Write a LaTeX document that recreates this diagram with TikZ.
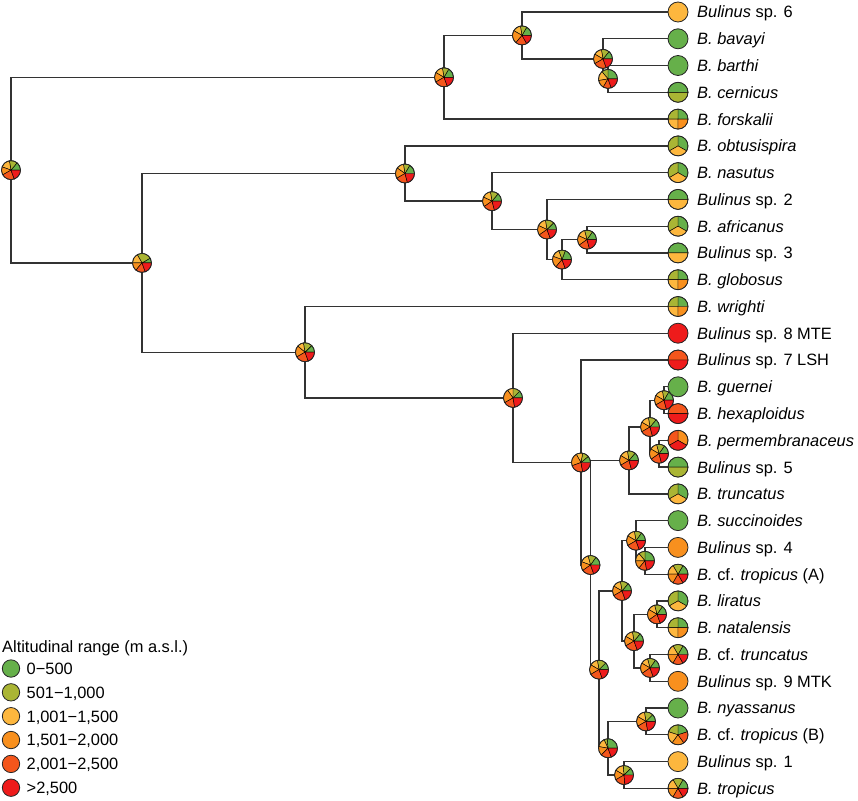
\documentclass[tikz,border=0pt]{standalone}
\usepackage{fontspec}
\setmainfont{Liberation Sans}
\definecolor{cA}{HTML}{66B04A}
\definecolor{cB}{HTML}{AAB534}
\definecolor{cC}{HTML}{FDB73E}
\definecolor{cD}{HTML}{F8901E}
\definecolor{cE}{HTML}{F4561C}
\definecolor{cF}{HTML}{EE1B1B}
\tikzset{
  branch/.style={line width=1.3pt, draw=black!80},
  slice/.style={draw=black, line width=0.45pt},
  rim/.style={draw=black!85, line width=0.8pt},
  lab/.style={anchor=base west, inner sep=0pt, font=\fontsize{16.4}{18}\selectfont},
  legdot/.style={circle, draw=black!85, line width=0.8pt, minimum size=17.4pt, inner sep=0pt},
}
\newcommand{\pieat}[3]{%
  \foreach \sa/\sb/\sc in {#3}{\filldraw[slice, fill=\sc] (#1) -- ++(\sa:#2) arc[start angle=\sa, end angle=\sb, radius=#2] -- cycle;}
  \draw[rim] (#1) circle[radius=#2];}
\newcommand{\dotat}[2]{\filldraw[rim, fill=#2] (#1) circle[radius=10pt];}
\newcommand{\ipie}[6]{\pieat{#1}{9.5pt}{0/#2/cA,#2/#3/cB,#3/#4/cC,#4/#5/cD,#5/#6/cE,#6/360/cF}}
\newcommand{\twoS}[3]{\pieat{#1}{10pt}{0/180/#2,180/360/#3}}
\newcommand{\threeS}[4]{\pieat{#1}{10pt}{-30/90/#2,90/210/#3,210/330/#4}}
\newcommand{\fourS}[1]{\pieat{#1}{10pt}{0/90/cA,90/180/cB,180/270/cC,270/360/cD}}
\newcommand{\sixS}[1]{\pieat{#1}{10pt}{0/60/cA,60/120/cB,120/180/cC,180/240/cD,240/300/cE,300/360/cF}}
\begin{document}
\begin{tikzpicture}[x=1pt,y=-1pt]
\useasboundingbox (0,0) rectangle (858,800);
% tips
\coordinate (t0) at (678,12.0);
\coordinate (t1) at (678,38.8);
\coordinate (t2) at (678,65.5);
\coordinate (t3) at (678,92.3);
\coordinate (t4) at (678,119.1);
\coordinate (t5) at (678,145.9);
\coordinate (t6) at (678,172.6);
\coordinate (t7) at (678,199.4);
\coordinate (t8) at (678,226.2);
\coordinate (t9) at (678,252.9);
\coordinate (t10) at (678,279.7);
\coordinate (t11) at (678,306.5);
\coordinate (t12) at (678,333.2);
\coordinate (t13) at (678,360.0);
\coordinate (t14) at (678,386.8);
\coordinate (t15) at (678,413.6);
\coordinate (t16) at (678,440.3);
\coordinate (t17) at (678,467.1);
\coordinate (t18) at (678,493.9);
\coordinate (t19) at (678,520.6);
\coordinate (t20) at (678,547.4);
\coordinate (t21) at (678,574.2);
\coordinate (t22) at (678,600.9);
\coordinate (t23) at (678,627.7);
\coordinate (t24) at (678,654.5);
\coordinate (t25) at (678,681.3);
\coordinate (t26) at (678,708.0);
\coordinate (t27) at (678,734.8);
\coordinate (t28) at (678,761.6);
\coordinate (t29) at (678,788.3);
% internal nodes
\coordinate (root) at (11,170.1);
\coordinate (A) at (444,77.3);
\coordinate (A1) at (522,35.4);
\coordinate (A2) at (603,58.9);
\coordinate (A3) at (608,78.9);
\coordinate (B) at (142,262.9);
\coordinate (C) at (405,173.5);
\coordinate (C1) at (492,201.1);
\coordinate (C2) at (547,229.5);
\coordinate (C3) at (562,259.6);
\coordinate (C4) at (587,239.6);
\coordinate (D) at (305,352.2);
\coordinate (E) at (513,397.9);
\coordinate (F) at (581,462.5);
\coordinate (G) at (590.5,565.0);
\coordinate (H) at (629,460.4);
\coordinate (H1) at (650,427.0);
\coordinate (H2) at (664,400.2);
\coordinate (H3) at (659,453.7);
\coordinate (I) at (599,669.6);
\coordinate (J) at (622,590.9);
\coordinate (J1) at (636,540.7);
\coordinate (J1a) at (645,560.8);
\coordinate (J2) at (634,641.1);
\coordinate (J2a) at (657,614.3);
\coordinate (J2b) at (650,667.9);
\coordinate (K) at (608,748.2);
\coordinate (K1) at (646,721.4);
\coordinate (K2) at (624,775.0);
% branches
\draw[branch] (root) |- (A);
\draw[branch] (root) |- (B);
\draw[branch] (A) |- (A1);
\draw[branch] (A) |- (t4);
\draw[branch] (A1) |- (t0);
\draw[branch] (A1) |- (A2);
\draw[branch] (A2) |- (t1);
\draw[branch] (A2) |- (A3);
\draw[branch] (A3) |- (t2);
\draw[branch] (A3) |- (t3);
\draw[branch] (B) |- (C);
\draw[branch] (B) |- (D);
\draw[branch] (C) |- (t5);
\draw[branch] (C) |- (C1);
\draw[branch] (C1) |- (t6);
\draw[branch] (C1) |- (C2);
\draw[branch] (C2) |- (t7);
\draw[branch] (C2) |- (C3);
\draw[branch] (C3) |- (C4);
\draw[branch] (C3) |- (t10);
\draw[branch] (C4) |- (t8);
\draw[branch] (C4) |- (t9);
\draw[branch] (D) |- (t11);
\draw[branch] (D) |- (E);
\draw[branch] (E) |- (t12);
\draw[branch] (E) |- (F);
\draw[branch] (F) |- (t13);
\draw[branch] (F) |- (G);
\draw[branch] (G) |- (H);
\draw[branch] (G) |- (I);
\draw[branch] (H) |- (H1);
\draw[branch] (H) |- (t18);
\draw[branch] (H1) |- (H2);
\draw[branch] (H1) |- (H3);
\draw[branch] (H2) |- (t14);
\draw[branch] (H2) |- (t15);
\draw[branch] (H3) |- (t16);
\draw[branch] (H3) |- (t17);
\draw[branch] (I) |- (J);
\draw[branch] (I) |- (K);
\draw[branch] (J) |- (J1);
\draw[branch] (J) |- (J2);
\draw[branch] (J1) |- (t19);
\draw[branch] (J1) |- (J1a);
\draw[branch] (J1a) |- (t20);
\draw[branch] (J1a) |- (t21);
\draw[branch] (J2) |- (J2a);
\draw[branch] (J2) |- (J2b);
\draw[branch] (J2a) |- (t22);
\draw[branch] (J2a) |- (t23);
\draw[branch] (J2b) |- (t24);
\draw[branch] (J2b) |- (t25);
\draw[branch] (K) |- (K1);
\draw[branch] (K) |- (K2);
\draw[branch] (K1) |- (t26);
\draw[branch] (K1) |- (t27);
\draw[branch] (K2) |- (t28);
\draw[branch] (K2) |- (t29);
% internal pies
\ipie{root}{50}{100}{160}{210}{290}
\ipie{A}{60}{100}{150}{210}{290}
\ipie{A1}{60}{100}{150}{230}{300}
\ipie{A2}{50}{100}{150}{210}{290}
\ipie{A3}{90}{130}{190}{240}{290}
\ipie{B}{30}{120}{180}{230}{290}
\ipie{C}{60}{100}{145}{210}{285}
\ipie{C1}{50}{100}{155}{215}{285}
\ipie{C2}{45}{100}{155}{215}{290}
\ipie{C3}{70}{110}{160}{230}{290}
\ipie{C4}{55}{105}{155}{215}{285}
\ipie{D}{45}{100}{140}{210}{290}
\ipie{E}{45}{90}{125}{210}{280}
\ipie{F}{40}{80}{120}{200}{280}
\ipie{G}{55}{105}{160}{215}{290}
\ipie{H}{50}{100}{150}{210}{285}
\ipie{H1}{50}{100}{150}{210}{285}
\ipie{H2}{60}{100}{150}{210}{285}
\ipie{H3}{55}{105}{150}{215}{285}
\ipie{I}{45}{100}{150}{210}{290}
\ipie{J}{50}{100}{150}{210}{290}
\ipie{J1}{55}{100}{150}{210}{290}
\ipie{J1a}{90}{130}{180}{230}{280}
\ipie{J2}{50}{100}{150}{210}{290}
\ipie{J2a}{55}{105}{150}{215}{290}
\ipie{J2b}{55}{105}{150}{215}{290}
\ipie{K}{95}{115}{170}{225}{290}
\ipie{K1}{45}{100}{150}{210}{280}
\ipie{K2}{45}{95}{150}{210}{275}
% tip pies
\dotat{t0}{cC}
\dotat{t1}{cA}
\dotat{t2}{cA}
\twoS{t3}{cA}{cB}
\fourS{t4}
\threeS{t5}{cA}{cB}{cC}
\threeS{t6}{cA}{cB}{cC}
\twoS{t7}{cA}{cC}
\threeS{t8}{cA}{cB}{cC}
\twoS{t9}{cA}{cC}
\fourS{t10}
\fourS{t11}
\dotat{t12}{cF}
\twoS{t13}{cE}{cF}
\dotat{t14}{cA}
\twoS{t15}{cE}{cF}
\threeS{t16}{cD}{cE}{cF}
\twoS{t17}{cA}{cB}
\threeS{t18}{cA}{cB}{cC}
\dotat{t19}{cA}
\dotat{t20}{cD}
\sixS{t21}
\threeS{t22}{cA}{cB}{cC}
\fourS{t23}
\sixS{t24}
\dotat{t25}{cD}
\dotat{t26}{cA}
\pieat{t27}{10pt}{18/90/cA,90/162/cB,162/234/cC,234/306/cD,306/378/cE}
\dotat{t28}{cC}
\sixS{t29}
% labels
\node[lab] (L0) at ([xshift=19pt,yshift=-5.9pt]t0) {\textit{Bulinus} sp. 6};
\node[lab] (L1) at ([xshift=19pt,yshift=-5.9pt]t1) {\textit{B. bavayi}};
\node[lab] (L2) at ([xshift=19pt,yshift=-5.9pt]t2) {\textit{B. barthi}};
\node[lab] (L3) at ([xshift=19pt,yshift=-5.9pt]t3) {\textit{B. cernicus}};
\node[lab] (L4) at ([xshift=19pt,yshift=-5.9pt]t4) {\textit{B. forskalii}};
\node[lab] (L5) at ([xshift=19pt,yshift=-5.9pt]t5) {\textit{B. obtusispira}};
\node[lab] (L6) at ([xshift=19pt,yshift=-5.9pt]t6) {\textit{B. nasutus}};
\node[lab] (L7) at ([xshift=19pt,yshift=-5.9pt]t7) {\textit{Bulinus} sp. 2};
\node[lab] (L8) at ([xshift=19pt,yshift=-5.9pt]t8) {\textit{B. africanus}};
\node[lab] (L9) at ([xshift=19pt,yshift=-5.9pt]t9) {\textit{Bulinus} sp. 3};
\node[lab] (L10) at ([xshift=19pt,yshift=-5.9pt]t10) {\textit{B. globosus}};
\node[lab] (L11) at ([xshift=19pt,yshift=-5.9pt]t11) {\textit{B. wrighti}};
\node[lab] (L12) at ([xshift=19pt,yshift=-5.9pt]t12) {\textit{Bulinus} sp. 8 MTE};
\node[lab] (L13) at ([xshift=19pt,yshift=-5.9pt]t13) {\textit{Bulinus} sp. 7 LSH};
\node[lab] (L14) at ([xshift=19pt,yshift=-5.9pt]t14) {\textit{B. guernei}};
\node[lab] (L15) at ([xshift=19pt,yshift=-5.9pt]t15) {\textit{B. hexaploidus}};
\node[lab] (L16) at ([xshift=19pt,yshift=-5.9pt]t16) {\textit{B. permembranaceus}};
\node[lab] (L17) at ([xshift=19pt,yshift=-5.9pt]t17) {\textit{Bulinus} sp. 5};
\node[lab] (L18) at ([xshift=19pt,yshift=-5.9pt]t18) {\textit{B. truncatus}};
\node[lab] (L19) at ([xshift=19pt,yshift=-5.9pt]t19) {\textit{B. succinoides}};
\node[lab] (L20) at ([xshift=19pt,yshift=-5.9pt]t20) {\textit{Bulinus} sp. 4};
\node[lab] (L21) at ([xshift=19pt,yshift=-5.9pt]t21) {\textit{B.} cf. \textit{tropicus} (A)};
\node[lab] (L22) at ([xshift=19pt,yshift=-5.9pt]t22) {\textit{B. liratus}};
\node[lab] (L23) at ([xshift=19pt,yshift=-5.9pt]t23) {\textit{B. natalensis}};
\node[lab] (L24) at ([xshift=19pt,yshift=-5.9pt]t24) {\textit{B.} cf. \textit{truncatus}};
\node[lab] (L25) at ([xshift=19pt,yshift=-5.9pt]t25) {\textit{Bulinus} sp. 9 MTK};
\node[lab] (L26) at ([xshift=19pt,yshift=-5.9pt]t26) {\textit{B. nyassanus}};
\node[lab] (L27) at ([xshift=19pt,yshift=-5.9pt]t27) {\textit{B.} cf. \textit{tropicus} (B)};
\node[lab] (L28) at ([xshift=19pt,yshift=-5.9pt]t28) {\textit{Bulinus} sp. 1};
\node[lab] (L29) at ([xshift=19pt,yshift=-5.9pt]t29) {\textit{B. tropicus}};
% legend
\node[lab] (legtitle) at (2,652) {Altitudinal range (m a.s.l.)};
\node[legdot, fill=cA] (g0) at (11,668.5) {};
\node[legdot, fill=cB] (g1) at (11,692.3) {};
\node[legdot, fill=cC] (g2) at (11,716.2) {};
\node[legdot, fill=cD] (g3) at (11,740.0) {};
\node[legdot, fill=cE] (g4) at (11,763.9) {};
\node[legdot, fill=cF] (g5) at (11,787.7) {};
\node[lab] (gt0) at ([xshift=15.5pt,yshift=-5.9pt]g0.center) {0−500};
\node[lab] (gt1) at ([xshift=15.5pt,yshift=-5.9pt]g1.center) {501−1,000};
\node[lab] (gt2) at ([xshift=15.5pt,yshift=-5.9pt]g2.center) {1,001−1,500};
\node[lab] (gt3) at ([xshift=15.5pt,yshift=-5.9pt]g3.center) {1,501−2,000};
\node[lab] (gt4) at ([xshift=15.5pt,yshift=-5.9pt]g4.center) {2,001−2,500};
\node[lab] (gt5) at ([xshift=15.5pt,yshift=-5.9pt]g5.center) {>2,500};
\end{tikzpicture}
\end{document}
